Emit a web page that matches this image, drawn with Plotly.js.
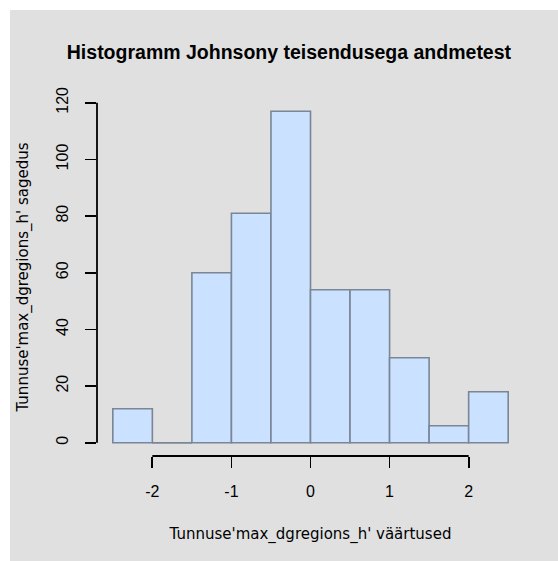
<!DOCTYPE html>
<html>
<head>
<meta charset="utf-8">
<script src="https://cdn.plot.ly/plotly-3.0.1.min.js"></script>
<style>
  html, body { margin: 0; padding: 0; background: #ffffff; }
  #chart { position: absolute; left: 10px; top: 10px; width: 548px; height: 551px; }
</style>
</head>
<body>
<div id="chart"></div>
<script>
// Histogram bins (left edges), bin width and counts
const binStarts = [-2.5, -2.0, -1.5, -1.0, -0.5, 0.0, 0.5, 1.0, 1.5, 2.0];
const binWidth = 0.5;
const counts = [12, 0, 60, 81, 117, 54, 54, 30, 6, 18];

// Axis ticks
const xTicks = [-2, -1, 0, 1, 2];
const xTickLabels = ['-2', '-1', '0', '1', '2'];
const yTicks = [0, 20, 40, 60, 80, 100, 120];
const yTickLabels = ['0', '20', '40', '60', '80', '100', '120'];

const titleText = 'Histogramm Johnsony teisendusega andmetest';
const xTitle = "Tunnuse'max_dgregions_h' väärtused";
const yTitle = "Tunnuse'max_dgregions_h' sagedus";

const fillColor = '#CAE1FF';
const edgeColor = '#7a8696';
const labelFont = 'Liberation Sans, Arial, sans-serif';
const axisTitleFont = 'DejaVu Sans, Verdana, sans-serif';

const centers = binStarts.map(s => s + binWidth / 2);

// empty bins still show their (flat) outline along the baseline
const emptyX = [], emptyY = [];
counts.forEach((c, i) => {
  if (c === 0) {
    emptyX.push(binStarts[i], binStarts[i] + binWidth, null);
    emptyY.push(0, 0, null);
  }
});

const traces = [
  {
    type: 'bar',
    x: centers,
    y: counts,
    width: binWidth,
    marker: { color: fillColor, line: { color: edgeColor, width: 1.6 } },
    hoverinfo: 'x+y'
  },
  {
    type: 'scatter',
    mode: 'lines',
    x: emptyX,
    y: emptyY,
    line: { color: edgeColor, width: 1.6 },
    hoverinfo: 'skip'
  }
];

const xLo = xTicks[0], xHi = xTicks[xTicks.length - 1];
const yLo = yTicks[0], yHi = yTicks[yTicks.length - 1];

const layout = {
  width: 548,
  height: 551,
  paper_bgcolor: '#e0e0e0',
  plot_bgcolor: 'rgba(0,0,0,0)',
  showlegend: false,
  bargap: 0,
  margin: { l: 87, r: 34, t: 88, b: 105 },
  title: {
    text: '<b>' + titleText + '</b>',
    font: { family: labelFont, size: 19.5, color: '#000000' },
    xref: 'container', x: 0.509, xanchor: 'center',
    yref: 'container', y: 1 - 42 / 551, yanchor: 'middle'
  },
  xaxis: {
    range: [-2.7, 2.7],
    tickvals: xTicks,
    ticktext: xTickLabels,
    ticks: 'outside',
    ticklen: 11,
    tickwidth: 1.8,
    tickcolor: '#000000',
    ticklabelstandoff: 10,
    showline: false,
    showgrid: false,
    zeroline: false,
    tickfont: { family: labelFont, size: 16, color: '#000000' },
    title: { text: xTitle, font: { family: axisTitleFont, size: 15, color: '#000000' }, standoff: 29 }
  },
  yaxis: {
    range: [-4.68, 121.68],
    tickvals: yTicks,
    ticktext: yTickLabels,
    ticks: 'outside',
    ticklen: 11,
    tickwidth: 1.8,
    tickcolor: '#000000',
    tickangle: -90,
    ticklabelstandoff: 11,
    showline: false,
    showgrid: false,
    zeroline: false,
    tickfont: { family: labelFont, size: 16, color: '#000000' },
    title: { text: yTitle, font: { family: axisTitleFont, size: 15, color: '#000000' }, standoff: 21 }
  },
  shapes: [
    // axis lines spanning only the labelled tick range
    { type: 'line', xref: 'x', yref: 'paper', x0: xLo, x1: xHi, y0: 0, y1: 0,
      line: { color: '#000000', width: 1.8 } },
    { type: 'line', xref: 'paper', yref: 'y', x0: 0, x1: 0, y0: yLo, y1: yHi,
      line: { color: '#000000', width: 1.8 } }
  ]
};

Plotly.newPlot('chart', traces, layout, { displayModeBar: false, staticPlot: true });
</script>
</body>
</html>
